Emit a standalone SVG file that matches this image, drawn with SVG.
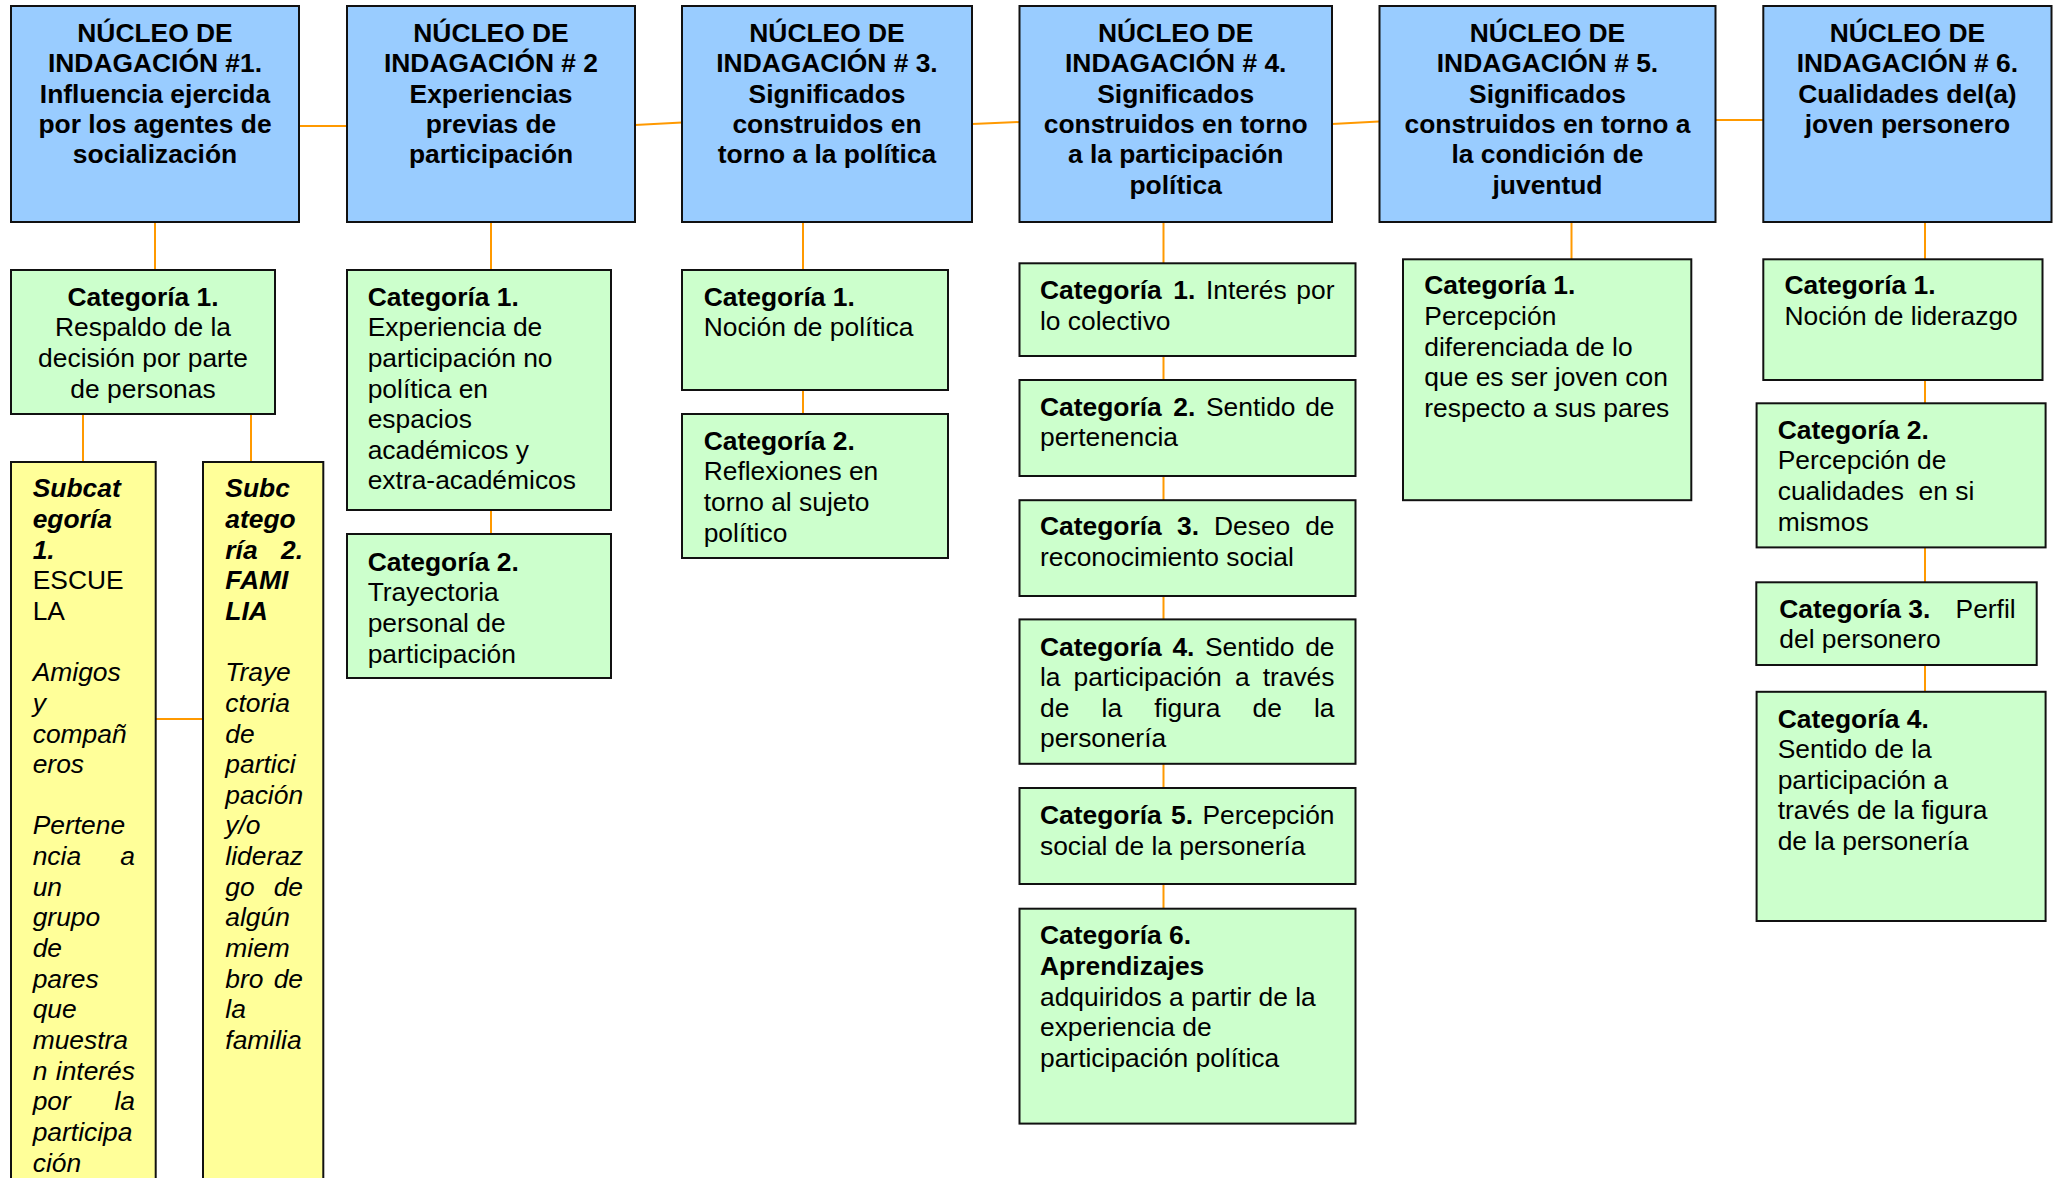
<svg xmlns="http://www.w3.org/2000/svg" width="2056" height="1178" viewBox="0 0 2056 1178">
<style>
.hd{fill:#99CCFF;stroke:#111;stroke-width:2}
.cat{fill:#CCFFCC;stroke:#111;stroke-width:2}
.sub{fill:#FFFF99;stroke:#111;stroke-width:2}
.con{stroke:#FF9900;stroke-width:2;fill:none}
text{font-family:"Liberation Sans",Arial,Helvetica,sans-serif;font-size:26.4px;fill:#000}
.b{font-weight:bold}
.i{font-style:italic}
.c{text-anchor:middle}
.e{text-anchor:end}
</style>
<rect width="2056" height="1178" fill="#fff"/>
<g id="connectors">
<line class="con" x1="299" y1="126" x2="347" y2="126"/>
<line class="con" x1="635" y1="125" x2="682" y2="122.5"/>
<line class="con" x1="972" y1="124" x2="1019" y2="122"/>
<line class="con" x1="1332" y1="124" x2="1379" y2="121.5"/>
<line class="con" x1="1716" y1="120" x2="1763" y2="120"/>
<line class="con" x1="155" y1="222" x2="155" y2="270"/>
<line class="con" x1="83" y1="414" x2="83" y2="462"/>
<line class="con" x1="251" y1="414" x2="251" y2="462"/>
<line class="con" x1="156" y1="719" x2="203" y2="719"/>
<line class="con" x1="491" y1="222" x2="491" y2="270"/>
<line class="con" x1="491" y1="510" x2="491" y2="534"/>
<line class="con" x1="803" y1="222" x2="803" y2="270"/>
<line class="con" x1="803" y1="390" x2="803" y2="414"/>
<line class="con" x1="1163.5" y1="222" x2="1163.5" y2="909"/>
<line class="con" x1="1571.5" y1="222" x2="1571.5" y2="259"/>
<line class="con" x1="1925" y1="222" x2="1925" y2="692"/>
</g>
<g id="n1">
<rect class="hd" x="11" y="6" width="288" height="216"/>
<text class="b c"><tspan x="155" y="42">NÚCLEO DE</tspan><tspan x="155" y="72.3">INDAGACIÓN #1.</tspan><tspan x="155" y="102.6">Influencia ejercida</tspan><tspan x="155" y="132.9">por los agentes de</tspan><tspan x="155" y="163.2">socialización</tspan></text>
</g>
<g id="n2">
<rect class="hd" x="347" y="6" width="288" height="216"/>
<text class="b c"><tspan x="491" y="42">NÚCLEO DE</tspan><tspan x="491" y="72.3">INDAGACIÓN # 2</tspan><tspan x="491" y="102.6">Experiencias</tspan><tspan x="491" y="132.9">previas de</tspan><tspan x="491" y="163.2">participación</tspan></text>
</g>
<g id="n3">
<rect class="hd" x="682" y="6" width="290" height="216"/>
<text class="b c"><tspan x="827" y="42">NÚCLEO DE</tspan><tspan x="827" y="72.3">INDAGACIÓN # 3.</tspan><tspan x="827" y="102.6">Significados</tspan><tspan x="827" y="132.9">construidos en</tspan><tspan x="827" y="163.2">torno a la política</tspan></text>
</g>
<g id="n4">
<rect class="hd" x="1019.5" y="6" width="312.5" height="216"/>
<text class="b c"><tspan x="1175.7" y="42">NÚCLEO DE</tspan><tspan x="1175.7" y="72.3">INDAGACIÓN # 4.</tspan><tspan x="1175.7" y="102.6">Significados</tspan><tspan x="1175.7" y="132.9">construidos en torno</tspan><tspan x="1175.7" y="163.2">a la participación</tspan><tspan x="1175.7" y="193.5">política</tspan></text>
</g>
<g id="n5">
<rect class="hd" x="1379.5" y="6" width="336" height="216"/>
<text class="b c"><tspan x="1547.5" y="42">NÚCLEO DE</tspan><tspan x="1547.5" y="72.3">INDAGACIÓN # 5.</tspan><tspan x="1547.5" y="102.6">Significados</tspan><tspan x="1547.5" y="132.9">construidos en torno a</tspan><tspan x="1547.5" y="163.2">la condición de</tspan><tspan x="1547.5" y="193.5">juventud</tspan></text>
</g>
<g id="n6">
<rect class="hd" x="1763.3" y="6" width="288.2" height="216"/>
<text class="b c"><tspan x="1907.4" y="42">NÚCLEO DE</tspan><tspan x="1907.4" y="72.3">INDAGACIÓN # 6.</tspan><tspan x="1907.4" y="102.6">Cualidades del(a)</tspan><tspan x="1907.4" y="132.9">joven personero</tspan></text>
</g>
<g id="n1c1">
<rect class="cat" x="11" y="270" width="264" height="144"/>
<text class="c"><tspan class="b" x="143" y="305.5">Categoría 1.</tspan><tspan x="143" y="336.2">Respaldo de la</tspan><tspan x="143" y="366.8">decisión por parte</tspan><tspan x="143" y="397.5">de personas</tspan></text>
</g>
<g id="n1s1">
<rect class="sub" x="11" y="462" width="144.7" height="730"/>
<text class="b i"><tspan x="32.7" y="497.3">Subcat</tspan><tspan x="32.7" y="527.95">egoría</tspan><tspan x="32.7" y="558.6">1.</tspan></text>
<text><tspan x="32.7" y="589.25">ESCUE</tspan><tspan x="32.7" y="619.9">LA</tspan></text>
<text class="i"><tspan x="32.7" y="681.2">Amigos</tspan><tspan x="32.7" y="711.85">y</tspan><tspan x="32.7" y="742.5">compañ</tspan><tspan x="32.7" y="773.15">eros</tspan><tspan x="32.7" y="834.45">Pertene</tspan><tspan x="32.7" y="865.1">ncia</tspan><tspan x="32.7" y="895.75">un</tspan><tspan x="32.7" y="926.4">grupo</tspan><tspan x="32.7" y="957.05">de</tspan><tspan x="32.7" y="987.7">pares</tspan><tspan x="32.7" y="1018.35">que</tspan><tspan x="32.7" y="1049">muestra</tspan><tspan x="32.7" y="1079.65">n</tspan><tspan x="32.7" y="1110.3">por</tspan><tspan x="32.7" y="1140.95">participa</tspan><tspan x="32.7" y="1171.6">ción</tspan></text>
<text class="i e"><tspan x="135" y="865.1">a</tspan><tspan x="135" y="1079.65">interés</tspan><tspan x="135" y="1110.3">la</tspan></text>
</g>
<g id="n1s2">
<rect class="sub" x="203" y="462" width="120.3" height="730"/>
<text class="b i"><tspan x="225.3" y="497.3">Subc</tspan><tspan x="225.3" y="527.95">atego</tspan><tspan x="225.3" y="558.6">ría</tspan><tspan x="225.3" y="589.25">FAMI</tspan><tspan x="225.3" y="619.9">LIA</tspan></text>
<text class="b i e"><tspan x="303" y="558.6">2.</tspan></text>
<text class="i"><tspan x="225.3" y="681.2">Traye</tspan><tspan x="225.3" y="711.85">ctoria</tspan><tspan x="225.3" y="742.5">de</tspan><tspan x="225.3" y="773.15">partici</tspan><tspan x="225.3" y="803.8">pación</tspan><tspan x="225.3" y="834.45">y/o</tspan><tspan x="225.3" y="865.1">lideraz</tspan><tspan x="225.3" y="895.75">go</tspan><tspan x="225.3" y="926.4">algún</tspan><tspan x="225.3" y="957.05">miem</tspan><tspan x="225.3" y="987.7">bro</tspan><tspan x="225.3" y="1018.35">la</tspan><tspan x="225.3" y="1049">familia</tspan></text>
<text class="i e"><tspan x="303" y="895.75">de</tspan><tspan x="303" y="987.7">de</tspan></text>
</g>
<g id="n2c1">
<rect class="cat" x="347" y="270" width="264" height="240"/>
<text><tspan class="b" x="367.7" y="305.5">Categoría 1.</tspan><tspan x="367.7" y="336.2">Experiencia de</tspan><tspan x="367.7" y="366.8">participación no</tspan><tspan x="367.7" y="397.5">política en</tspan><tspan x="367.7" y="428.1">espacios</tspan><tspan x="367.7" y="458.8">académicos y</tspan><tspan x="367.7" y="489.4">extra-académicos</tspan></text>
</g>
<g id="n2c2">
<rect class="cat" x="347" y="534" width="264" height="144"/>
<text><tspan class="b" x="367.7" y="570.5">Categoría 2.</tspan><tspan x="367.7" y="601.2">Trayectoria</tspan><tspan x="367.7" y="631.8">personal de</tspan><tspan x="367.7" y="662.5">participación</tspan></text>
</g>
<g id="n3c1">
<rect class="cat" x="682" y="270" width="266" height="120"/>
<text><tspan class="b" x="703.7" y="305.5">Categoría 1.</tspan><tspan x="703.7" y="336.2">Noción de política</tspan></text>
</g>
<g id="n3c2">
<rect class="cat" x="682" y="414" width="266" height="144"/>
<text><tspan class="b" x="703.7" y="449.6">Categoría 2.</tspan><tspan x="703.7" y="480.2">Reflexiones en</tspan><tspan x="703.7" y="510.9">torno al sujeto</tspan><tspan x="703.7" y="541.5">político</tspan></text>
</g>
<g id="n4c1">
<rect class="cat" x="1019.5" y="263.3" width="336" height="92.7"/>
<text class="b"><tspan x="1040" y="299">Categoría</tspan><tspan x="1173.3" y="299">1.</tspan></text>
<text><tspan x="1206" y="299">Interés</tspan><tspan x="1040" y="329.6">lo colectivo</tspan></text>
<text class="e"><tspan x="1334.5" y="299">por</tspan></text>
</g>
<g id="n4c2">
<rect class="cat" x="1019.5" y="380" width="336" height="96"/>
<text class="b"><tspan x="1040" y="415.5">Categoría</tspan><tspan x="1173.3" y="415.5">2.</tspan></text>
<text><tspan x="1206" y="415.5">Sentido</tspan><tspan x="1040" y="446">pertenencia</tspan></text>
<text class="e"><tspan x="1334.5" y="415.5">de</tspan></text>
</g>
<g id="n4c3">
<rect class="cat" x="1019.5" y="500.2" width="336" height="95.8"/>
<text class="b"><tspan x="1040" y="535">Categoría</tspan><tspan x="1177" y="535">3.</tspan></text>
<text><tspan x="1214" y="535">Deseo</tspan><tspan x="1040" y="565.6">reconocimiento social</tspan></text>
<text class="e"><tspan x="1334.5" y="535">de</tspan></text>
</g>
<g id="n4c4">
<rect class="cat" x="1019.5" y="619.4" width="336" height="144.4"/>
<text class="b"><tspan x="1040" y="655.5">Categoría</tspan><tspan x="1172.4" y="655.5">4.</tspan></text>
<text><tspan x="1205" y="655.5">Sentido</tspan><tspan x="1040" y="686.1">la</tspan><tspan x="1073.6" y="686.1">participación</tspan><tspan x="1234.9" y="686.1">a</tspan><tspan x="1040" y="716.7">de</tspan><tspan x="1101.6" y="716.7">la</tspan><tspan x="1154.3" y="716.7">figura</tspan><tspan x="1252.5" y="716.7">de</tspan><tspan x="1040" y="747.3">personería</tspan></text>
<text class="e"><tspan x="1334.5" y="655.5">de</tspan><tspan x="1334.5" y="686.1">través</tspan><tspan x="1334.5" y="716.7">la</tspan></text>
</g>
<g id="n4c5">
<rect class="cat" x="1019.5" y="788" width="336" height="96"/>
<text class="b"><tspan x="1040" y="824.3">Categoría</tspan><tspan x="1171.1" y="824.3">5.</tspan></text>
<text><tspan x="1040" y="855">social de la personería</tspan></text>
<text class="e"><tspan x="1334.5" y="824.3">Percepción</tspan></text>
</g>
<g id="n4c6">
<rect class="cat" x="1019.5" y="908.7" width="336" height="214.9"/>
<text><tspan class="b" x="1040" y="944.4">Categoría 6.</tspan><tspan class="b" x="1040" y="975">Aprendizajes</tspan><tspan x="1040" y="1005.7">adquiridos a partir de la</tspan><tspan x="1040" y="1036.3">experiencia de</tspan><tspan x="1040" y="1067">participación política</tspan></text>
</g>
<g id="n5c1">
<rect class="cat" x="1403" y="259.3" width="288.3" height="240.9"/>
<text><tspan class="b" x="1424.3" y="294.3">Categoría 1.</tspan><tspan x="1424.3" y="325">Percepción</tspan><tspan x="1424.3" y="355.6">diferenciada de lo</tspan><tspan x="1424.3" y="386.3">que es ser joven con</tspan><tspan x="1424.3" y="417">respecto a sus pares</tspan></text>
</g>
<g id="n6c1">
<rect class="cat" x="1763.3" y="259.3" width="279.2" height="120.7"/>
<text><tspan class="b" x="1784.5" y="294.3">Categoría 1.</tspan><tspan x="1784.5" y="325">Noción de liderazgo</tspan></text>
</g>
<g id="n6c2">
<rect class="cat" x="1756.6" y="403.3" width="289" height="144.1"/>
<text xml:space="preserve"><tspan class="b" x="1777.7" y="438.7">Categoría 2.</tspan><tspan x="1777.7" y="469.4">Percepción de</tspan><tspan x="1777.7" y="500">cualidades  en si</tspan><tspan x="1777.7" y="530.7">mismos</tspan></text>
</g>
<g id="n6c3">
<rect class="cat" x="1756.3" y="582.3" width="280.4" height="82.7"/>
<text class="b"><tspan x="1779.3" y="617.7">Categoría</tspan><tspan x="1908.3" y="617.7">3.</tspan></text>
<text><tspan x="1779.3" y="647.5">del personero</tspan></text>
<text class="e"><tspan x="2015.7" y="617.7">Perfil</tspan></text>
</g>
<g id="n6c4">
<rect class="cat" x="1756.6" y="691.8" width="289" height="229.2"/>
<text><tspan class="b" x="1777.7" y="727.5">Categoría 4.</tspan><tspan x="1777.7" y="758.1">Sentido de la</tspan><tspan x="1777.7" y="788.8">participación a</tspan><tspan x="1777.7" y="819.4">través de la figura</tspan><tspan x="1777.7" y="850">de la personería</tspan></text>
</g>
</svg>
